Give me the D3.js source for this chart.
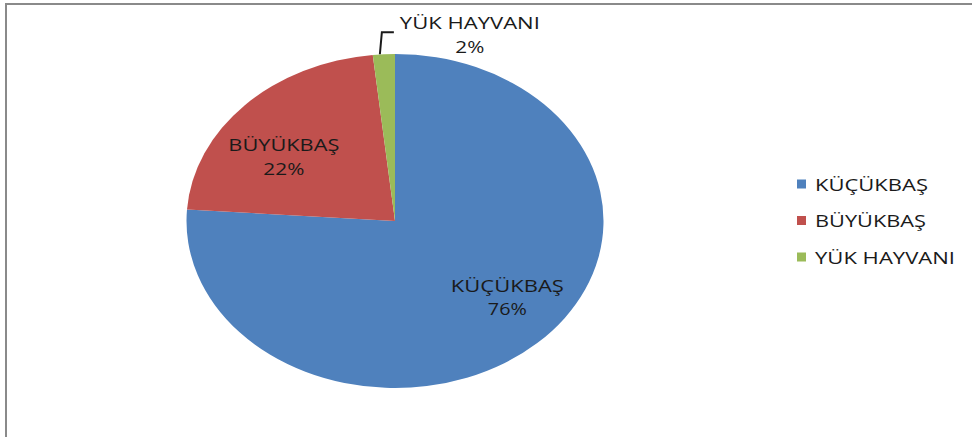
<!DOCTYPE html>
<html><head><meta charset="utf-8">
<script src="https://cdn.jsdelivr.net/npm/d3@7/dist/d3.min.js"></script>
<style>html,body{margin:0;padding:0;background:#fff;overflow:hidden}</style>
</head><body><svg id="c" width="972" height="437"></svg>
<script>
const categories = ["KÜÇÜKBAŞ", "BÜYÜKBAŞ", "YÜK HAYVANI"];
const values = [76.1, 22.2, 1.7];
const percentLabels = ["76%", "22%", "2%"];
const colors = ["#4F81BD", "#C0504D", "#9BBB59"];

const svg = d3.select("#c");
const font = "'Open Sans', 'DejaVu Sans', sans-serif";
const fs = 17;
// approximate rendered widths of the original (Calibri, horizontally stretched)
const textW = {"KÜÇÜKBAŞ": 113, "BÜYÜKBAŞ": 111, "YÜK HAYVANI": 140, "76%": 39, "22%": 41, "2%": 29};

svg.append("rect").attr("x", 6).attr("y", 4).attr("width", 1200).attr("height", 800)
  .attr("fill", "#fff").attr("stroke", "#8a8a8a").attr("stroke-width", 2);

const cx = 395, cy = 221, rx = 208.5, ry = 167;
const data = categories.map((c, i) => ({cat: c, v: values[i], p: percentLabels[i], col: colors[i]}));
const pie = d3.pie().sort(null).value(d => d.v);
const arcs = pie(data);
const arc = d3.arc().innerRadius(0).outerRadius(ry);

const g = svg.append("g").attr("transform", `translate(${cx},${cy}) scale(${rx/ry},1)`);
g.selectAll("path").data(arcs).join("path").attr("d", arc).attr("fill", d => d.data.col);

function proj(a, k) {
  const m = (a.startAngle + a.endAngle) / 2;
  return [cx + Math.sin(m) * rx * k[0], cy - Math.cos(m) * ry * k[1]];
}
function fitted(sel, s) {
  return sel.text(s).attr("textLength", textW[s]).attr("lengthAdjust", "spacingAndGlyphs");
}
const labelK = [[0.79, 0.62], [0.74, 0.56], null];
arcs.forEach((a, i) => {
  let x, y;
  if (labelK[i]) { [x, y] = proj(a, labelK[i]); }
  else {
    const m = (a.startAngle + a.endAngle) / 2;
    const ex = cx + Math.sin(m) * rx, ey = cy - Math.cos(m) * ry;
    svg.append("path").attr("d", `M${ex - 4},${ey} L${ex - 2},${ey - 22} L${ex + 10},${ey - 22}`)
      .attr("fill", "none").attr("stroke", "#1a1a1a").attr("stroke-width", 2);
    x = ex + 86; y = ey - 20;
  }
  const t = svg.append("text").attr("y", y).attr("text-anchor", "middle")
    .attr("font-family", font).attr("font-size", fs).attr("fill", "#1a1a1a");
  fitted(t.append("tspan").attr("x", x).attr("dy", "-0.3em"), a.data.cat);
  fitted(t.append("tspan").attr("x", x).attr("dy", "1.4em"), a.data.p);
});

const leg = svg.append("g").attr("transform", "translate(797,0)");
const ly = d3.scalePoint().domain(categories).range([184, 257]);
categories.forEach((c, i) => {
  leg.append("rect").attr("x", 0).attr("y", ly(c) - 4.5).attr("width", 9).attr("height", 9).attr("fill", colors[i]);
  fitted(leg.append("text").attr("x", 18).attr("y", ly(c) + 6.5).attr("font-family", font).attr("font-size", fs)
    .attr("fill", "#1a1a1a"), c);
});
</script></body></html>
